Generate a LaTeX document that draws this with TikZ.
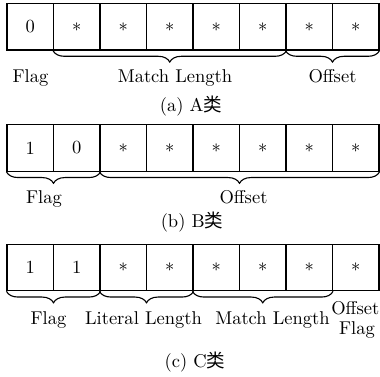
\documentclass[tikz,border=0pt]{standalone}
\usepackage{fontspec}
\newfontfamily\cjk{Noto Sans CJK SC}
\usetikzlibrary{decorations.pathreplacing}

\tikzset{
  cell/.style={draw, line width=0.6pt, minimum width=25.11pt, minimum height=25.11pt,
               inner sep=0pt, font=\normalsize},
  fieldbrace/.style={decorate, line width=0.6pt,
                     decoration={brace, mirror, amplitude=6.2pt}},
  lbl/.style={anchor=base, inner sep=0pt},
  captxt/.style={anchor=base, inner sep=0pt},
}

\begin{document}
\begin{tikzpicture}[x=0.54pt, y=-0.54pt]
  \useasboundingbox (0,0) rectangle (380,376);

  % row (a): one flag bit, five match-length bits, two offset bits
  \foreach \t [count=\i] in {0,$*$,$*$,$*$,$*$,$*$,$*$,$*$}
    \node[cell] (a\i) at ({7+46.5*(\i-0.5)}, 26.75) {\t};
  \draw[fieldbrace] (a2.south west) -- (a6.south east);
  \draw[fieldbrace] (a7.south west) -- (a8.south east);
  \node[lbl] (aflag)  at (30.5, 82.6)  {Flag};
  \node[lbl] (amatch) at (175, 82.6)   {Match Length};
  \node[lbl] (aoff)   at (332.5, 82.6) {Offset};
  \node[captxt] (acap) at (191, 111)   {(a) A{\cjk 类}};

  % row (b): two flag bits, six offset bits
  \foreach \t [count=\i] in {1,0,$*$,$*$,$*$,$*$,$*$,$*$}
    \node[cell] (b\i) at ({7+46.5*(\i-0.5)}, 148) {\t};
  \draw[fieldbrace] (b1.south west) -- (b2.south east);
  \draw[fieldbrace] (b3.south west) -- (b8.south east);
  \node[lbl] (bflag) at (44, 203.3)    {Flag};
  \node[lbl] (boff)  at (243.5, 203.3) {Offset};
  \node[captxt] (bcap) at (192, 227.5) {(b) B{\cjk 类}};

  % row (c): flag, literal length, match length, offset flag
  \foreach \t [count=\i] in {1,1,$*$,$*$,$*$,$*$,$*$,$*$}
    \node[cell] (c\i) at ({7+46.5*(\i-0.5)}, 267.5) {\t};
  \draw[fieldbrace] (c1.south west) -- (c2.south east);
  \draw[fieldbrace] (c3.south west) -- (c4.south east);
  \draw[fieldbrace] (c5.south west) -- (c7.south east);
  \node[lbl] (cflag)  at (48.5, 324.3)  {Flag};
  \node[lbl] (clit)   at (143.5, 324.3) {Literal Length};
  \node[lbl] (cmatch) at (272.5, 324.3) {Match Length};
  \node[lbl] (coff1)  at (355.3, 314.3) {Offset};
  \node[lbl] (coff2)  at (357, 334.3)   {Flag};
  \node[captxt] (ccap) at (195, 367)   {(c) C{\cjk 类}};
\end{tikzpicture}
\end{document}
